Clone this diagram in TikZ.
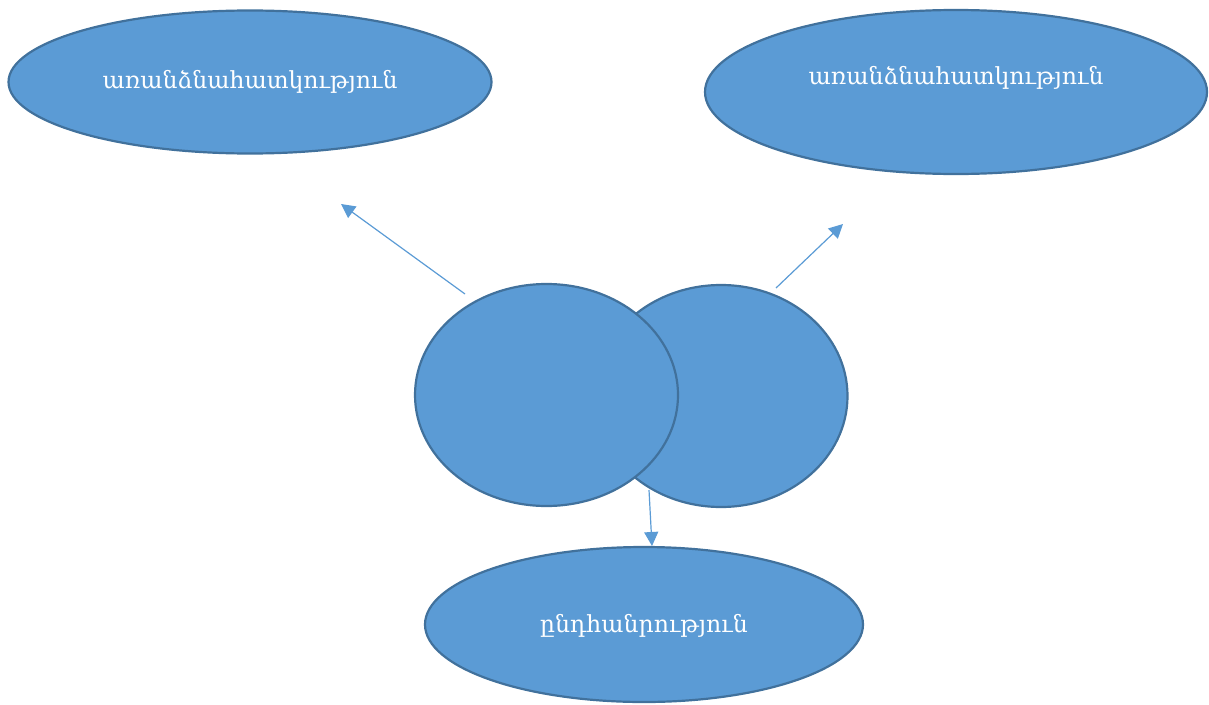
\documentclass[tikz,border=0pt]{standalone}
\usepackage{fontspec}
\setmainfont{DejaVu Serif}
\usetikzlibrary{shapes.geometric,arrows.meta}
\definecolor{fillblue}{HTML}{5B9BD5}
\definecolor{edgeblue}{HTML}{41719C}
\tikzset{
  blob/.style={ellipse, fill=fillblue, draw=edgeblue, line width=2.2pt, inner sep=0pt},
  lbl/.style={text=white, font=\fontsize{23.5}{28}\selectfont},
  conn/.style={draw=fillblue, line width=1.2pt, -{Triangle[length=14pt,width=14pt]}}
}
\begin{document}
\begin{tikzpicture}[x=1pt,y=-1pt]
\useasboundingbox (0,0) rectangle (1209,704);
\node[blob, minimum width=483pt, minimum height=143pt] (tl) at (250,82) {};
\node[lbl] (tltext) at (250,82) {առանձնահատկություն};
\node[blob, minimum width=502pt, minimum height=164pt] (tr) at (956,92) {};
\node[lbl] (trtext) at (956,78) {առանձնահատկություն};
\node[blob, minimum width=253pt, minimum height=222pt] (cr) at (721,396) {};
\node[blob, minimum width=263pt, minimum height=222pt] (cl) at (546.5,395) {};
\node[blob, minimum width=438pt, minimum height=155pt] (bt) at (644,624.5) {};
\node[lbl] (bttext) at (644,626) {ընդհանրություն};
\coordinate (a1s) at (465,294);
\coordinate (a1e) at (341,204);
\coordinate (a2s) at (776,288);
\coordinate (a2e) at (843,224);
\coordinate (a3s) at (649,490);
\coordinate (a3e) at (652,546);
\draw[conn] (a1s) -- (a1e);
\draw[conn] (a2s) -- (a2e);
\draw[conn] (a3s) -- (a3e);
\end{tikzpicture}
\end{document}
